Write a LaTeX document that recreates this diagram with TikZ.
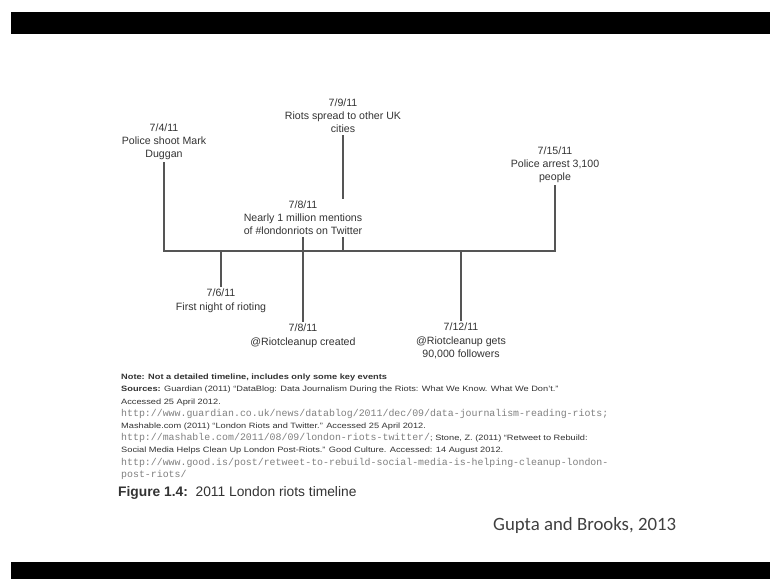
\documentclass[tikz,border=0pt]{standalone}
\usepackage{fontspec}
\setmainfont{Liberation Sans}
\newfontfamily\notefont{Liberation Sans}[FakeStretch=1.2, Ligatures=TeX]
\newfontfamily\urlfont{Liberation Mono}
\newfontfamily\creditfont{Carlito}
\definecolor{axisgray}{HTML}{555555}
\definecolor{textgray}{HTML}{333333}
\newcommand{\weblink}[1]{{\urlfont\fontsize{9.9}{12.2}\selectfont\color{gray}#1}}
\begin{document}
\begin{tikzpicture}[x=1pt,y=-1pt,
  event/.style={align=center, inner sep=2pt, fill=white, text=textgray, font=\fontsize{10.6}{13.2}\selectfont},
  axis/.style={draw=axisgray, line width=1.4pt}]
\useasboundingbox (0,0) rectangle (770,579);
\fill[white] (0,0) rectangle (770,579);
\fill[black] (11,12) rectangle (770,34);
\fill[black] (11,562) rectangle (770,579);
% the timeline
\coordinate (d4) at (164,251);
\coordinate (d6) at (221,251);
\coordinate (d8) at (303,251);
\coordinate (d9) at (343,251);
\coordinate (d12) at (461,251);
\coordinate (d15) at (555,251);
% events above the line
\node[event, anchor=south] (duggan) at (164,162) {7/4/11\\Police shoot Mark\\Duggan};
\node[event, anchor=south] (spread) at (343,135) {7/9/11\\Riots spread to other UK\\cities};
\draw[axis] (spread.south) -- (d9);
\node[event, anchor=south] (mentions) at (303,237) {7/8/11\\Nearly 1 million mentions\\of \#londonriots on Twitter};
\node[event, anchor=south] (arrest) at (555,185) {7/15/11\\Police arrest 3,100\\people};
% events below the line
\node[event, anchor=north] (firstnight) at (221,287) {7/6/11\\First night of rioting};
\node[event, anchor=north] (created) at (303,322) {7/8/11\\@Riotcleanup created};
\node[event, anchor=north] (followers) at (461,321) {7/12/11\\@Riotcleanup gets\\90,000 followers};
\draw[axis] (duggan.south) -- (d4) -- (d15) -- (arrest.south);
\draw[axis] (mentions.south) -- (d8) -- (created.north);
\draw[axis] (d6) -- (firstnight.north);
\draw[axis] (d12) -- (followers.north);
% notes
\node[anchor=north west, align=left, inner sep=0pt, text=textgray, font=\notefont\fontsize{7.7}{12.2}\selectfont] (notes) at (121,374) {%
\textbf{Note: Not a detailed timeline, includes only some key events}\\
\textbf{Sources:} Guardian (2011) ``DataBlog: Data Journalism During the Riots: What We Know. What We Don't.''\\
Accessed 25 April 2012.\\
\weblink{http://www.guardian.co.uk/news/datablog/2011/dec/09/data-journalism-reading-riots;}\\
Mashable.com (2011) ``London Riots and Twitter.'' Accessed 25 April 2012.\\
\weblink{http://mashable.com/2011/08/09/london-riots-twitter/}; Stone, Z. (2011) ``Retweet to Rebuild:\\
Social Media Helps Clean Up London Post-Riots.'' Good Culture. Accessed: 14 August 2012.\\
\weblink{http://www.good.is/post/retweet-to-rebuild-social-media-is-helping-cleanup-london-}\\
\weblink{post-riots/}};
\node[anchor=west, inner sep=0pt, text=textgray, font=\fontsize{13.8}{16}\selectfont] (caption) at (118,493) {\textbf{Figure 1.4:}\ \ 2011 London riots timeline};
\node[anchor=west, inner sep=0pt, text=black!75, font=\creditfont\fontsize{18.8}{22}\selectfont] (credit) at (493,525) {Gupta and Brooks, 2013};
\end{tikzpicture}
\end{document}
